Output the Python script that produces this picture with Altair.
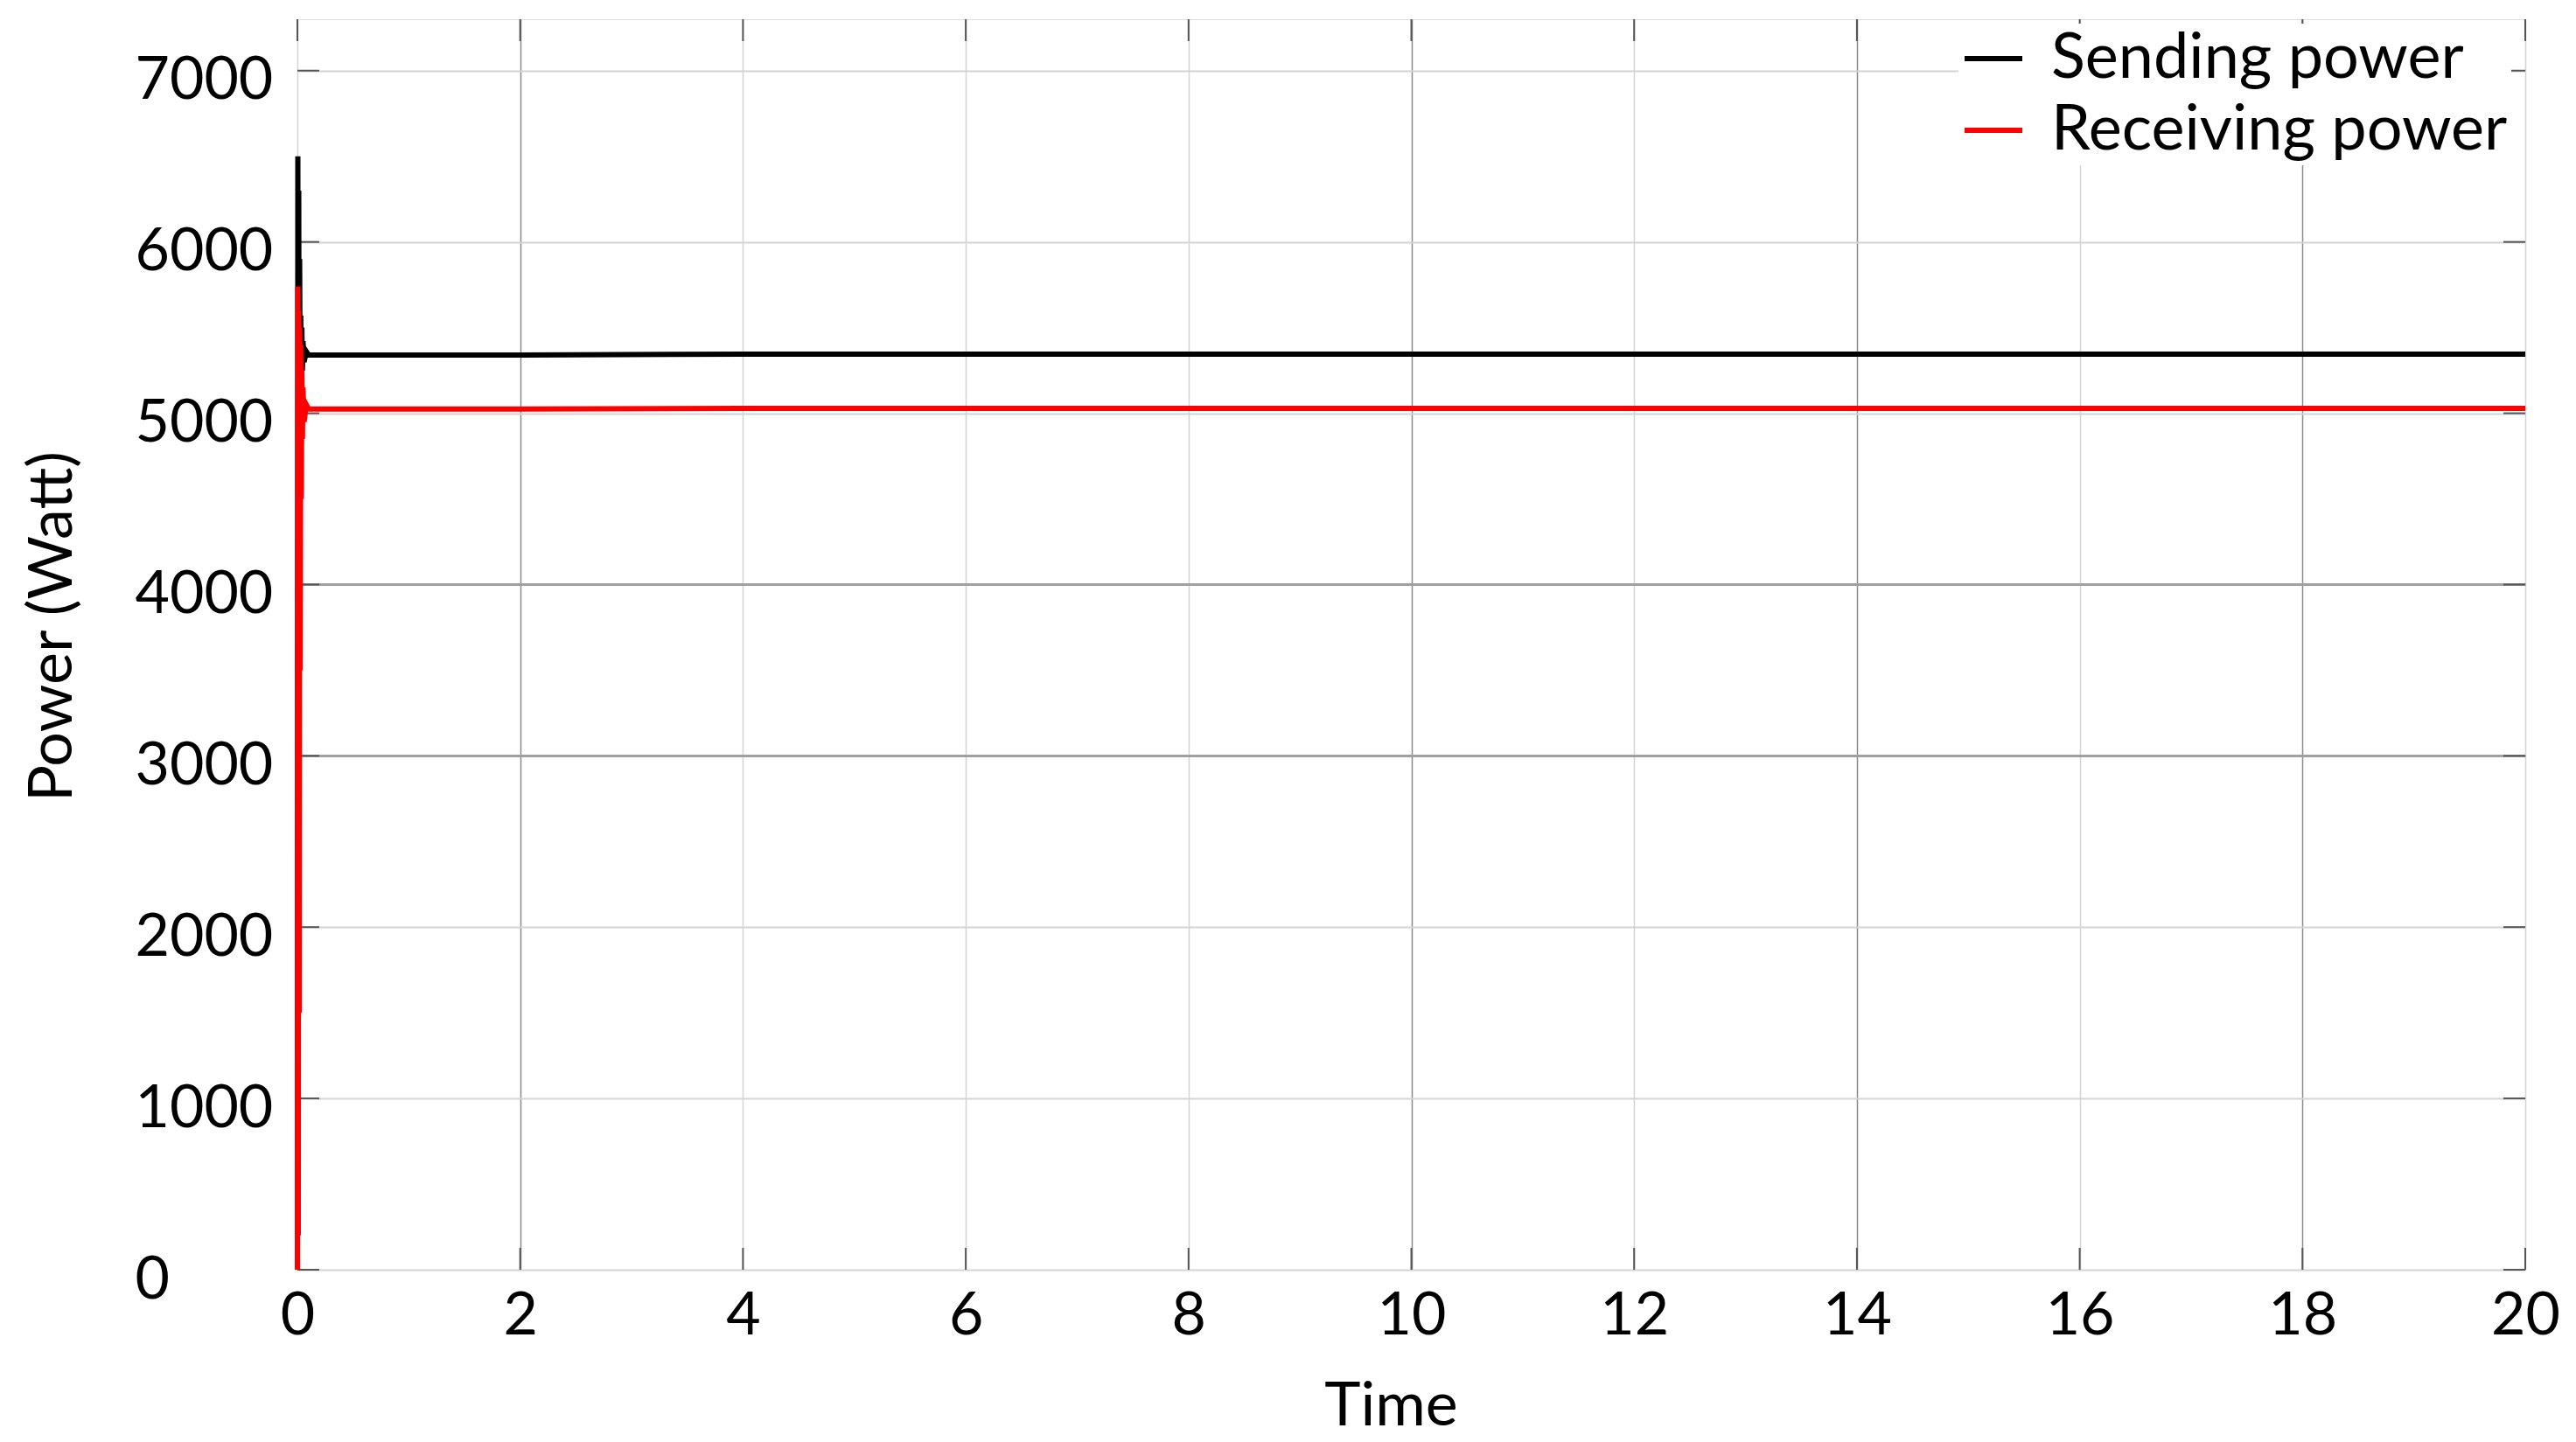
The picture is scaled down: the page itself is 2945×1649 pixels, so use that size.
import altair as alt
import pandas as pd

# ---- data ----
time_send = [0, 0.004, 0.008, 0.012, 0.016, 0.02, 0.025, 0.03, 0.035, 0.04, 0.045, 0.05, 0.06, 0.08, 0.1,
             2, 4, 6, 8, 10, 12, 14, 16, 18, 20]
sending = [0, 6500, 3000, 6300, 4500, 5900, 5000, 5570, 5210, 5500, 5250, 5420, 5300, 5360, 5340,
           5340, 5345, 5345, 5345, 5345, 5345, 5345, 5345, 5345, 5345]
time_recv = [0, 0.004, 0.008, 0.012, 0.016, 0.02, 0.025, 0.03, 0.035, 0.04, 0.045, 0.05, 0.06, 0.08, 0.1,
             2, 4, 6, 8, 10, 12, 14, 16, 18, 20]
receiving = [0, 5740, 200, 5600, 1500, 5500, 3500, 5400, 4500, 5250, 4850, 5150, 4950, 5050, 5025,
             5025, 5028, 5028, 5028, 5028, 5028, 5028, 5028, 5028, 5028]
series = ["Sending power", "Receiving power"]
colors = ["#000000", "#ff0000"]
x_ticks = [0, 2, 4, 6, 8, 10, 12, 14, 16, 18, 20]
y_ticks = [0, 1000, 2000, 3000, 4000, 5000, 6000, 7000]

W, H = 2547, 1430
FONT = "Lato"

df = pd.concat([
    pd.DataFrame({"t": time_send, "p": sending, "s": series[0]}),
    pd.DataFrame({"t": time_recv, "p": receiving, "s": series[1]}),
])

xs = alt.Scale(domain=[0, 20], nice=False)
ys = alt.Scale(domain=[0, 7300], nice=False)
color = alt.Color("s:N", scale=alt.Scale(domain=series, range=colors),
                  legend=alt.Legend(title=None, orient="none", legendX=1899, legendY=5,
                                    symbolType="stroke", symbolSize=4356, symbolStrokeWidth=6,
                                    labelFont=FONT, labelFontSize=72, labelColor="#000000",
                                    labelOffset=30, rowPadding=10, fillColor="#ffffff",
                                    padding=4, labelLimit=1000))

xaxis = alt.Axis(values=x_ticks, format="d", title="Time", titleFont=FONT, titleFontSize=70,
                 titleFontWeight="normal", titleColor="#000000", titleX=1250, titleY=156,
                 titleBaseline="middle",
                 labelFont=FONT, labelFontSize=68, labelColor="#000000", labelPadding=19,
                 ticks=False, domain=False, labelFlush=False,
                 gridColor={"condition": {"test": "datum.value == 2 || datum.value == 10 || datum.value == 14 || datum.value == 18",
                                          "value": "#8a8a8a"}, "value": "#d4d4d4"},
                 gridWidth=1.5)
yaxis = alt.Axis(values=y_ticks, format="d", title="Power (Watt)", titleFont=FONT, titleFontSize=70,
                 titleFontWeight="normal", titleColor="#000000", titleX=-280, titleY=694,
                 titleBaseline="middle", titleAlign="center",
                 labelFont=FONT, labelFontSize=68, labelColor="#000000", labelPadding=186,
                 labelAlign="left", labelOffset=12, ticks=False, domain=False,
                 gridColor={"condition": {"test": "datum.value == 3000 || datum.value == 4000",
                                          "value": "#a0a0a0"}, "value": "#d4d4d4"},
                 gridWidth={"condition": {"test": "datum.value == 3000 || datum.value == 4000",
                                          "value": 3}, "value": 2})

base = alt.Chart(df)
send_line = base.transform_filter(alt.datum.s == series[0]).mark_line(strokeWidth=6).encode(
    x=alt.X("t:Q", scale=xs, axis=xaxis), y=alt.Y("p:Q", scale=ys, axis=yaxis), color=color)
recv_line = base.transform_filter(alt.datum.s == series[1]).mark_line(strokeWidth=6).encode(
    x=alt.X("t:Q", scale=xs), y=alt.Y("p:Q", scale=ys), color=color)

# inward tick marks on all four sides
xt = pd.DataFrame({"v": x_ticks})
yt = pd.DataFrame({"v": y_ticks})
tick_style = dict(color="#555555", strokeWidth=2)
xb = alt.Chart(xt).mark_rule(**tick_style).encode(x=alt.X("v:Q", scale=xs), y=alt.value(H - 25), y2=alt.value(H))
xtop = alt.Chart(xt).mark_rule(**tick_style).encode(x=alt.X("v:Q", scale=xs), y=alt.value(0), y2=alt.value(25))
yl = alt.Chart(yt).mark_rule(**tick_style).encode(y=alt.Y("v:Q", scale=ys), x=alt.value(0), x2=alt.value(25))
yr = alt.Chart(yt).mark_rule(**tick_style).encode(y=alt.Y("v:Q", scale=ys), x=alt.value(W - 25), x2=alt.value(W))

chart = alt.layer(xb, xtop, yl, yr, send_line, recv_line).properties(
    width=W, height=H,
    autosize=alt.AutoSizeParams(type="none"),
    padding={"left": 332, "top": 14, "right": 40, "bottom": 189},
).configure_view(stroke="#c4c4c4", strokeWidth=2).configure(background="#ffffff")

chart.save("out.html", embed_options={"renderer": "svg", "actions": False})
